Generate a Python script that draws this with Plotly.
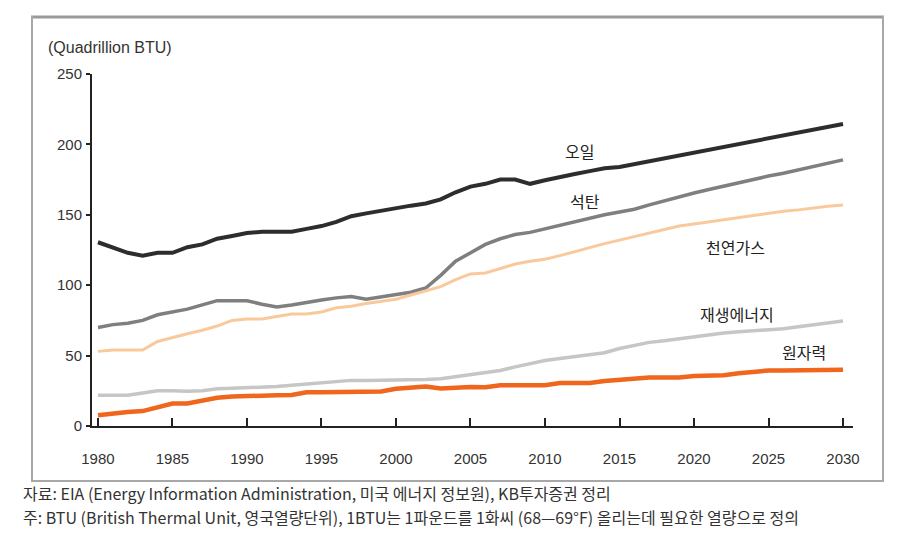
import plotly.graph_objects as go

years = list(range(1980, 2031))

oil = [130.5, 127, 123, 121, 123, 123, 127, 129, 133, 135,
       137, 138, 138, 138, 140, 142, 145, 149, 151, 153,
       155, 156.5, 158, 161, 166, 170, 172, 175, 175, 172,
       174.5, 177, 179, 181, 183, 184, 186, 188, 190, 192,
       194, 196, 198, 200, 202, 204.5, 206.5, 208.5, 210.5, 212.5,
       214.5]
coal = [70, 72, 73, 75, 79, 81, 83, 86, 89, 89,
        89, 86.5, 84.5, 86, 88, 89.5, 91, 92, 90, 91.5,
        93, 95, 98, 107, 117, 123, 129, 133, 136, 137.5,
        140, 142.5, 145, 148, 150, 152, 154, 157, 160, 163,
        165.5, 168, 170.5, 173, 175.5, 177.5, 179.5, 182, 184.5, 187,
        189]
gas = [53, 54, 54, 54, 60, 63, 65.5, 68, 71, 75,
       76, 76, 77.5, 79.5, 79.5, 81, 84, 85, 87, 88.5,
       90, 93, 96, 99, 104, 108, 108.7, 112, 115, 117,
       118.5, 121, 124, 127, 129.5, 132, 134.5, 137, 139.5, 142,
       143.5, 145, 146.5, 148.5, 150, 151.5, 152.5, 153.5, 155, 156,
       157]
renew = [21.8, 21.8, 21.8, 23.5, 25, 25, 24.6, 25, 26.5, 26.8,
         27, 27.5, 28, 29, 30, 31, 32, 32.4, 32.4, 32.4,
         32.4, 32.5, 33, 33.5, 35, 36.5, 38, 39.4, 42, 44.5,
         46.5, 48, 49.5, 50.5, 52, 55, 57, 59.4, 60.5, 62,
         63.5, 65, 66, 67, 67.5, 68, 69, 70.5, 72, 73,
         74.5]
nuclear = [7.7, 9, 10, 10.6, 13.5, 16, 16, 18, 20, 21,
           21.5, 21.8, 21.8, 22, 24, 24, 24, 24.5, 24.5, 24.5,
           26.5, 27, 28, 26.6, 27.2, 27.7, 27.5, 29, 29, 29,
           29, 30.5, 30.5, 30.5, 32, 33, 33.8, 34.5, 34.5, 34.5,
           35.5, 36, 36, 37.5, 38.5, 39.4, 39.4, 39.4, 39.4, 40,
           40]

x_ticks = [1980, 1985, 1990, 1995, 2000, 2005, 2010, 2015, 2020, 2025, 2030]
y_ticks = [0, 50, 100, 150, 200, 250]

series = [
    ("석탄", coal, "#7f7f7f", 3.5),
    ("천연가스", gas, "#f9c99b", 3),
    ("재생에너지", renew, "#c6c6c6", 3.5),
    ("원자력", nuclear, "#f0661c", 4.5),
    ("오일", oil, "#2d2d2d", 4),
]

labels = [
    ("오일", 2012.3, 195),
    ("석탄", 2012.7, 160),
    ("천연가스", 2022.8, 127),
    ("재생에너지", 2022.9, 79.5),
    ("원자력", 2027.4, 52.5),
]

fig = go.Figure()
for name, vals, col, w in series:
    fig.add_trace(go.Scatter(x=years, y=vals, mode="lines", name=name,
                             line=dict(color=col, width=w, shape="linear"),
                             hoverinfo="skip"))

TXT = "#333333"
FONT = "Liberation Sans, Arial, Noto Sans CJK KR, sans-serif"
KFONT = "Noto Sans CJK KR, Liberation Sans, sans-serif"

for t, xv, yv in labels:
    fig.add_annotation(x=xv, y=yv, text=t, showarrow=False,
                       font=dict(family=KFONT, size=16, color="#222222"))

L, R, T, B = 92, 853, 74, 426
W, H = 909, 540
pw, ph = R - L, B - T

def px(xp):
    return (xp - L) / pw

def py(yp):
    return (B - yp) / ph

# frame box
fig.add_shape(type="line", xref="paper", yref="paper", x0=px(31), x1=px(884), y0=py(17), y1=py(17),
              line=dict(color="#9a9a9a", width=3))
fig.add_shape(type="line", xref="paper", yref="paper", x0=px(32), x1=px(32), y0=py(16), y1=py(481),
              line=dict(color="#a8a8a8", width=2))
fig.add_shape(type="line", xref="paper", yref="paper", x0=px(883), x1=px(883), y0=py(16), y1=py(481),
              line=dict(color="#a8a8a8", width=2))
fig.add_shape(type="line", xref="paper", yref="paper", x0=px(31), x1=px(884), y0=py(481), y1=py(481),
              line=dict(color="#a8a8a8", width=2))

fig.add_annotation(xref="paper", yref="paper", x=px(46), y=py(47), xanchor="left", yanchor="middle",
                   text="(Quadrillion BTU)", showarrow=False, font=dict(family=FONT, size=16, color=TXT))
fig.add_annotation(xref="paper", yref="paper", x=px(21), y=py(493), xanchor="left", yanchor="middle",
                   text="자료: EIA (Energy Information Administration, 미국 에너지 정보원), KB투자증권 정리",
                   showarrow=False, font=dict(family=KFONT, size=16, color=TXT))
fig.add_annotation(xref="paper", yref="paper", x=px(21), y=py(517), xanchor="left", yanchor="middle",
                   text="주: BTU (British Thermal Unit, 영국열량단위), 1BTU는 1파운드를 1화씨 (68—69°F) 올리는데 필요한 열량으로 정의",
                   showarrow=False, font=dict(family=KFONT, size=16, color=TXT))

fig.update_layout(
    width=W, height=H,
    margin=dict(l=L, r=W - R, t=T, b=H - B, pad=0),
    paper_bgcolor="white", plot_bgcolor="white",
    showlegend=False,
    font=dict(family=FONT, size=15, color=TXT),
)
fig.update_xaxes(range=[1979.6, 2030.67], tickvals=x_ticks, ticktext=[str(v) for v in x_ticks],
                 showgrid=False, zeroline=False, showline=True, linecolor="#222222", linewidth=2,
                 ticks="inside", ticklen=8, tickwidth=1.5, tickcolor="#222222",
                 ticklabelstandoff=18, tickfont=dict(family=FONT, size=15, color=TXT))
fig.update_yaxes(range=[0, 250], tickvals=y_ticks, showgrid=False, zeroline=False,
                 showline=True, linecolor="#222222", linewidth=2,
                 ticks="outside", ticklen=4, tickwidth=1.5, tickcolor="#222222",
                 ticklabelstandoff=1, tickfont=dict(family=FONT, size=15, color=TXT))

fig.write_html("out.html", config={"displayModeBar": False},
               post_script="document.body.style.margin='0px';")
